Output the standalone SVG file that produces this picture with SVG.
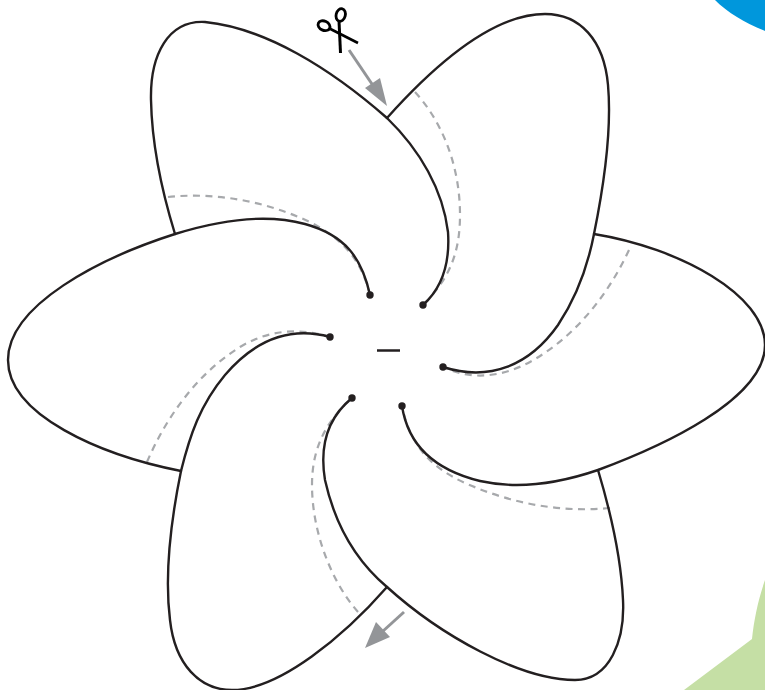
<svg xmlns="http://www.w3.org/2000/svg" width="765" height="690" viewBox="0 0 765 690">
<defs><style>
.o{fill:none;stroke:#231f20;stroke-width:2.4;stroke-linecap:round}
.d{fill:none;stroke:#a7a9ac;stroke-width:2.2;stroke-dasharray:7 5.5}
.a{fill:none;stroke:#939598;stroke-width:3}
.h{fill:#939598}
.p{fill:#231f20}
.s{fill:none;stroke:#000}
</style></defs>
<rect width="765" height="690" fill="#fff"/>
<path id="bg-blue" d="M715 0C728 13 745 23 765 31V0Z" fill="#0097dc"/>
<path id="bg-green" d="M684 690L752 639C754 620 758 600 765 580V690Z" fill="#c5dfa5"/>
<g id="connectors">
<path class="d" d="M415 92C445 125 460 170 460 215C460 255 448 280 423 305"/>
<path class="d" d="M629 250C608 295 575 337 530 362C500 378 470 380 443 367"/>
<path class="d" d="M610 508C560 513 510 503 465 483C430 467 410 445 402 406"/>
<path class="d" d="M358 612C330 580 312 530 312 485C312 445 328 420 352 398"/>
<path class="d" d="M147 462C165 420 195 375 240 347C270 329 300 328 330 337"/>
<path class="d" d="M168 197C215 192 265 201 310 222C345 240 362 262 370 295"/>
<path class="o" d="M423 305C442 288 450 262 448 232C443 190 420 150 387 118C330 68 265 28 205 22C168 20 150 55 151 100C152 150 163 195 175 234"/>
<path class="o" d="M370 295C362 258 345 235 305 224C265 213 220 220 175 234C100 258 8 305 8 360C8 415 100 455 181 471"/>
<path class="o" d="M330 337C290 326 255 340 225 375C200 405 190 435 181 471C170 525 165 580 170 620C175 665 200 690 232 690C280 690 345 635 387 587"/>
<path class="o" d="M352 398C325 420 320 450 325 480C335 525 355 560 387 587C440 635 520 680 575 680C610 680 625 640 623 600C621 555 610 510 598 470"/>
<path class="o" d="M402 406C408 445 435 470 480 481C520 490 560 483 598 470C660 447 765 400 765 345C765 295 680 248 594 234"/>
<path class="o" d="M443 367C490 382 530 365 558 325C578 295 588 265 594 234C605 180 612 130 608 85C604 40 580 14 545 14C490 14 430 70 387 118"/>
<path class="a" d="M349 50L374 87"/><path class="h" d="M365 88L380 78L387 106Z"/>
<path class="a" d="M404 612L382 632"/><path class="h" d="M376 622L390 637L365 648Z"/>
</g>
<g id="center">
<path d="M377 350.500H400" stroke="#231f20" stroke-width="2.500"/>
<circle class="p" cx="423" cy="305" r="3.700"/><circle class="p" cx="370" cy="295" r="3.700"/>
<circle class="p" cx="330" cy="337" r="3.700"/><circle class="p" cx="352" cy="398" r="3.700"/>
<circle class="p" cx="402" cy="406" r="3.700"/><circle class="p" cx="443" cy="367" r="3.700"/>
</g>
<g id="scissors" class="s">
<ellipse cx="340.700" cy="15" rx="4.600" ry="6.400" transform="rotate(15 340.700 15)" stroke-width="2.800"/>
<ellipse cx="324" cy="25.700" rx="6.200" ry="4.600" transform="rotate(25 324 25.700)" stroke-width="2.800"/>
<path d="M339 21L340.500 53" stroke-width="3"/><path d="M329.500 28.500L358 43" stroke-width="2.600"/>
</g>
</svg>
